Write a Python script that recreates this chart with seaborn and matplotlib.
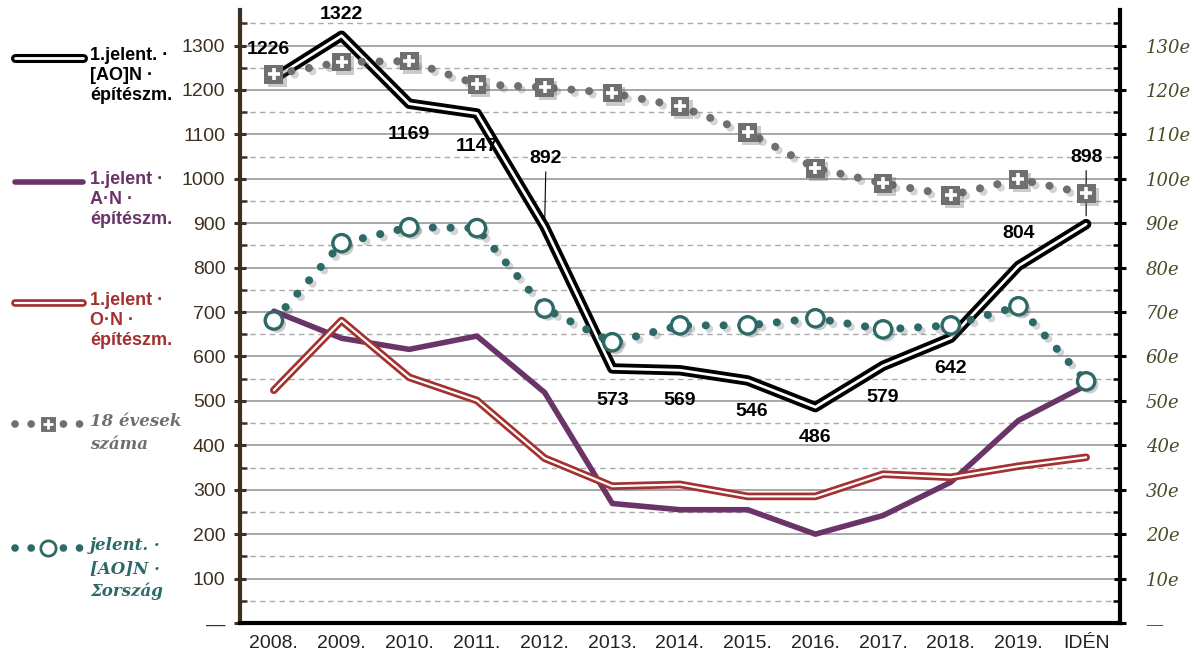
import numpy as np
import pandas as pd
import seaborn as sns
import matplotlib.pyplot as plt
import matplotlib.patheffects as pe
from matplotlib.lines import Line2D
from matplotlib.ticker import FixedLocator, MultipleLocator

years = ["2008.", "2009.", "2010.", "2011.", "2012.", "2013.", "2014.",
         "2015.", "2016.", "2017.", "2018.", "2019.", "IDÉN"]
aon_epit = [1226, 1322, 1169, 1147, 892, 573, 569, 546, 486, 579, 642, 804, 898]
an_epit = [702, 641, 616, 646, 519, 269, 255, 255, 200, 242, 317, 456, 535]
on_epit = [524, 681, 553, 501, 371, 308, 312, 285, 285, 335, 328, 353, 373]
evesek18 = [123.5, 126.3, 126.5, 121.3, 120.6, 119.3, 116.3, 110.5, 102.4, 99.0, 96.3, 99.9, 96.7]
orszag = [68.1, 85.5, 89.1, 88.9, 70.8, 63.2, 67.0, 67.0, 68.6, 66.1, 67.0, 71.3, 54.4]

# label offsets (points) for the black series
lab_off = [(-4, 21), (0, 15), (0, -22), (0, -24), (1, 49), (0, -23), (0, -22),
           (3, -22), (0, -22), (0, -23), (0, -22), (0, 23), (0, 48)]

C_BLACK = "#000000"
C_PURPLE = "#6a3468"
C_RED = "#a3312f"
C_GRAY = "#6f6f6f"
C_TEAL = "#2d6a67"
C_LTICK = "#3d3020"
C_RLAB = "#4a4a25"

sns.set_style("white")
narrow = ["Liberation Sans Narrow", "Liberation Sans", "DejaVu Sans"]
serif = ["DejaVu Serif"]
plt.rcParams["font.family"] = narrow

df = pd.DataFrame({"pos": np.arange(len(years)), "aon": aon_epit, "an": an_epit,
                   "on": on_epit, "ev18": evesek18, "orsz": orszag})

fig = plt.figure(figsize=(11.97, 6.61), dpi=100)
ax = fig.add_axes([240 / 1197, 1 - 623 / 661, 880 / 1197, 613 / 661])
ax2 = ax.twinx()

shadow_pts = [pe.SimplePatchShadow(offset=(2.5, -2.5), shadow_rgbFace="#555555", alpha=0.3), pe.Normal()]
shadow_line = [pe.SimpleLineShadow(offset=(2.5, -2.5), shadow_color="#555555", alpha=0.25), pe.Normal()]
dots = (0, (0.01, 2.2))

# left axis series
sns.lineplot(data=df, x="pos", y="an", ax=ax, color=C_PURPLE, lw=4, zorder=4)
sns.lineplot(data=df, x="pos", y="on", ax=ax, color="white", lw=1.6, zorder=4,
             path_effects=[pe.Stroke(linewidth=5.5, foreground=C_RED), pe.Normal()])
sns.lineplot(data=df, x="pos", y="aon", ax=ax, color="white", lw=2.0, zorder=5,
             path_effects=[pe.Stroke(linewidth=7.5, foreground=C_BLACK), pe.Normal()])

for i, v in enumerate(aon_epit):
    dx, dy = lab_off[i]
    arrow = None
    if dy > 40:
        arrow = dict(arrowstyle="-", color="black", lw=0.8, shrinkA=1, shrinkB=6)
    ax.annotate(str(v), xy=(i, v), xytext=(dx, dy), textcoords="offset points",
                ha="center", va="center", fontsize=14, fontweight="bold",
                family=narrow, color="black", arrowprops=arrow, zorder=6)

# right axis series (thousands)
sns.lineplot(data=df, x="pos", y="ev18", ax=ax2, color=C_GRAY, lw=5.8, linestyle=dots,
             dash_capstyle="round", path_effects=shadow_line)
sns.lineplot(data=df, x="pos", y="ev18", ax=ax2, color=C_GRAY, linestyle="", marker="s",
             markersize=13.5, markeredgewidth=0, path_effects=shadow_pts)
sns.lineplot(data=df, x="pos", y="ev18", ax=ax2, color="white", linestyle="", marker="+",
             markersize=9, markeredgewidth=2.6, markeredgecolor="white")
sns.lineplot(data=df, x="pos", y="orsz", ax=ax2, color=C_TEAL, lw=5.8, linestyle=dots,
             dash_capstyle="round", path_effects=shadow_line)
sns.lineplot(data=df, x="pos", y="orsz", ax=ax2, color=C_TEAL, linestyle="", marker="o",
             markersize=12.5, markerfacecolor="white", markeredgecolor=C_TEAL,
             markeredgewidth=2.4, path_effects=shadow_pts)

# axes styling
ax.set_xlim(-0.5, len(years) - 0.5)
ax.set_ylim(0, 1380)
ax2.set_ylim(0, 138)
for a in (ax, ax2):
    a.set_xlabel("")
    a.set_ylabel("")

ax.xaxis.set_major_locator(FixedLocator(np.arange(-0.5, len(years), 1)))
ax.xaxis.set_minor_locator(FixedLocator(np.arange(len(years))))
ax.set_xticklabels([], minor=False)
ax.set_xticklabels(years, minor=True)
ax.tick_params(axis="x", which="major", direction="out", length=8, width=2.5, color="black")
ax.tick_params(axis="x", which="minor", length=0, pad=9, labelsize=14, labelcolor="#222222")

yt = list(range(0, 1301, 100))
ax.yaxis.set_major_locator(FixedLocator(yt))
ax.yaxis.set_minor_locator(MultipleLocator(50))
ax.set_yticklabels(["—"] + [str(v) for v in yt[1:]])
ax.tick_params(axis="y", which="major", direction="inout", length=9, width=2.2,
               color=C_LTICK, labelsize=14, labelcolor=C_LTICK, pad=6)
ax.tick_params(axis="y", which="minor", direction="in", length=5, width=1.8, color=C_LTICK)
ax.grid(which="major", axis="y", color="#8f8f8f", lw=1.1)
ax.grid(which="minor", axis="y", color="#ababab", lw=1.0, ls=(0, (4, 3)))
ax.grid(which="both", axis="x", visible=False)

rt = list(range(0, 131, 10))
ax2.yaxis.set_major_locator(FixedLocator(rt))
ax2.yaxis.set_minor_locator(MultipleLocator(5))
ax2.set_yticklabels(["—"] + [f"{v}e" for v in rt[1:]], family=serif, style="italic")
ax2.tick_params(axis="y", which="major", direction="inout", length=9, width=2.2,
                color="black", labelsize=13, labelcolor=C_RLAB, pad=14)
ax2.tick_params(axis="y", which="minor", direction="in", length=5, width=1.8, color="black")
ax2.grid(False)

for s in ("top", "right"):
    ax.spines[s].set_visible(False)
ax.spines["left"].set_color(C_LTICK)
ax.spines["left"].set_linewidth(3)
ax.spines["bottom"].set_color("black")
ax.spines["bottom"].set_linewidth(3)
for s in ("top", "left", "bottom"):
    ax2.spines[s].set_visible(False)
ax2.spines["right"].set_color("black")
ax2.spines["right"].set_linewidth(3)

# legend at the left
W, H = 1197, 661
def fx(px):
    return px / W
def fy(py):
    return 1 - py / H

legend = [
    ("1.jelent. ·\n[AO]N ·\népítészm.", C_BLACK, "double", 58, narrow, "normal"),
    ("1.jelent ·\nA·N ·\népítészm.", C_PURPLE, "solid", 182, narrow, "normal"),
    ("1.jelent ·\nO·N ·\népítészm.", C_RED, "double", 303, narrow, "normal"),
    ("18 évesek\nszáma", C_GRAY, "square", 424, serif, "italic"),
    ("jelent. ·\n[AO]N ·\nΣország", C_TEAL, "circle", 548, serif, "italic"),
]
for text, col, kind, y, fam, sty in legend:
    if kind == "double":
        inner = 2.0 if col == C_BLACK else 1.6
        outer = 6.5 if col == C_BLACK else 5.5
        fig.add_artist(Line2D([fx(15), fx(83)], [fy(y)] * 2, transform=fig.transFigure,
                              color="white", lw=inner, solid_capstyle="round",
                              path_effects=[pe.Stroke(linewidth=outer, foreground=col,
                                                      capstyle="round"), pe.Normal()]))
    elif kind == "solid":
        fig.add_artist(Line2D([fx(15), fx(83)], [fy(y)] * 2, transform=fig.transFigure,
                              color=col, lw=4, solid_capstyle="round"))
    else:
        fig.add_artist(Line2D([fx(15), fx(81)], [fy(y)] * 2, transform=fig.transFigure,
                              color=col, lw=5.5, linestyle=(0, (0.01, 2.1)),
                              dash_capstyle="round"))
        if kind == "square":
            fig.add_artist(Line2D([fx(48)], [fy(y)], transform=fig.transFigure, color=col,
                                  marker="s", markersize=11, linestyle="",
                                  markeredgecolor="white", markeredgewidth=0.8))
            fig.add_artist(Line2D([fx(48)], [fy(y)], transform=fig.transFigure, color="white",
                                  marker="+", markersize=7, linestyle="", markeredgewidth=2))
        else:
            fig.add_artist(Line2D([fx(48)], [fy(y)], transform=fig.transFigure, color=col,
                                  marker="o", markersize=11, linestyle="", markerfacecolor="white",
                                  markeredgecolor=col, markeredgewidth=2))
    fs = 13 if fam is narrow else 12
    ls = 1.22 if fam is narrow else 1.45
    fig.text(fx(90), fy(y - 11), text, ha="left", va="top", color=col, fontsize=fs,
             fontweight="bold", family=fam, style=sty, linespacing=ls)

fig.savefig("out.png", dpi=100)
